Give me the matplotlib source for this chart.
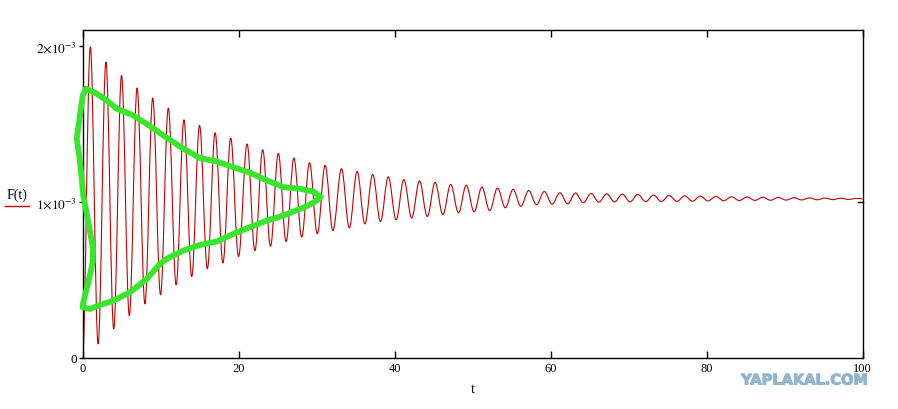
import numpy as np
import matplotlib
matplotlib.use('Agg')
import matplotlib.pyplot as plt
from matplotlib.lines import Line2D
from matplotlib.path import Path
from matplotlib.patches import PathPatch
import matplotlib.patheffects as pe

plt.rcParams['mathtext.fontset'] = 'stix'
plt.rcParams['font.family'] = ['Liberation Serif', 'DejaVu Serif']

SCALE = 1e-3  # values below are in units of 10^-3

# maxima of F(t)
peak_t = [1.0, 3.0, 5.0, 7.0, 9.0, 11.0, 13.0, 15.0, 17.0, 19.0,
          21.1, 23.1, 25.1, 27.1, 29.1, 31.1, 33.2, 35.2, 37.2, 39.2,
          41.2, 43.2, 45.2, 47.2, 49.2, 51.2, 53.2, 55.2, 57.2, 59.2,
          61.2, 63.2, 65.2, 67.2, 69.2, 71.2, 73.2, 75.2, 77.2, 79.2,
          81.2, 83.2, 85.2, 87.2, 89.2, 91.2, 93.2, 95.2, 97.2, 99.2]
peak_f = [1.992, 1.895, 1.809, 1.729, 1.665, 1.600, 1.525, 1.489, 1.442, 1.408,
          1.370, 1.333, 1.310, 1.280, 1.250, 1.233, 1.212, 1.194, 1.175, 1.160,
          1.143, 1.133, 1.124, 1.111, 1.106, 1.094, 1.088, 1.079, 1.072, 1.066,
          1.058, 1.056, 1.053, 1.051, 1.049, 1.047, 1.043, 1.040, 1.038, 1.036,
          1.034, 1.032, 1.031, 1.029, 1.028, 1.026, 1.025, 1.024, 1.023, 1.022]

# minima of F(t)
trough_t = [2.0, 4.0, 6.0, 8.0, 10.0, 12.0, 14.0, 16.0, 18.0, 20.0,
            22.1, 24.1, 26.1, 28.1, 30.1, 32.1, 34.2, 36.2, 38.2, 40.2,
            42.2, 44.2, 46.2, 48.2, 50.2, 52.2, 54.2, 56.2, 58.2, 60.2,
            62.2, 64.2, 66.2, 68.2, 70.2, 72.2, 74.2, 76.2, 78.2, 80.2,
            82.2, 84.2, 86.2, 88.2, 90.2, 92.2, 94.2, 96.2, 98.2]
trough_f = [0.090, 0.186, 0.271, 0.346, 0.404, 0.468, 0.521, 0.571, 0.609, 0.650,
            0.688, 0.716, 0.746, 0.774, 0.796, 0.816, 0.833, 0.859, 0.874, 0.885,
            0.897, 0.906, 0.919, 0.930, 0.936, 0.944, 0.962, 0.972, 0.981, 0.985,
            0.987, 0.994, 0.998, 0.999, 1.000, 1.001, 1.002, 1.003, 1.004, 1.006,
            1.007, 1.008, 1.009, 1.010, 1.011, 1.012, 1.013, 1.014, 1.015]

start_t, start_f = 0.0, 0.0
end_t, end_f = 100.0, 1.019

# hand drawn green loop (t, F in 10^-3)
loop_t = [0.45, 1.82, 3.10, 4.39, 6.52, 8.66, 10.80, 12.93, 15.07, 17.22,
          19.35, 21.49, 23.63, 25.76, 27.90, 29.61, 30.56,
          29.61, 28.76, 27.90, 25.76, 23.63, 21.49, 19.35, 17.22, 15.07,
          12.93, 10.80, 9.94, 8.24, 6.09, 3.95, 2.25, 0.96, 0.0,
          0.10, 0.74, 1.31, 1.35, 0.74, 0.10, -0.32, -0.74, -0.32, 0.03, 0.45]
loop_f = [1.724, 1.692, 1.649, 1.596, 1.553, 1.484, 1.410, 1.340, 1.280, 1.258,
          1.222, 1.186, 1.137, 1.094, 1.083, 1.066, 1.030,
          0.994, 0.972, 0.955, 0.912, 0.880, 0.838, 0.795, 0.746, 0.724,
          0.688, 0.635, 0.603, 0.506, 0.421, 0.367, 0.340, 0.314, 0.325,
          0.357, 0.485, 0.613, 0.699, 0.870, 1.040, 1.256, 1.404, 1.553, 1.681, 1.724]

t_all = np.array([start_t] + peak_t + trough_t + [end_t])
f_all = np.array([start_f] + peak_f + trough_f + [end_f])
order = np.argsort(t_all)
t_all = t_all[order]
f_all = f_all[order] * SCALE

# smooth curve: cubic segments with flat tangents at every extremum
verts = [(t_all[0], f_all[0])]
codes = [Path.MOVETO]
k = 0.3642
for i in range(len(t_all) - 1):
    h = t_all[i + 1] - t_all[i]
    verts += [(t_all[i] + k * h, f_all[i]),
              (t_all[i + 1] - k * h, f_all[i + 1]),
              (t_all[i + 1], f_all[i + 1])]
    codes += [Path.CURVE4] * 3

fig = plt.figure(figsize=(8.98, 4.10), dpi=100)
ax = fig.add_axes([0.0919, 0.1244, 0.8686, 0.8])

ax.add_patch(PathPatch(Path(verts, codes), facecolor='none',
                       edgecolor='#c40000', lw=0.8))
ax.plot(loop_t, np.array(loop_f) * SCALE, color='#38e62e', lw=4.2,
        solid_capstyle='round', solid_joinstyle='round', clip_on=False, zorder=5)

ax.set_xlim(0, 100)
ax.set_ylim(0, 2.1e-3)
ax.set_xticks([0, 20, 40, 60, 80, 100])
ax.set_xticklabels(['0', '20', '40', '60', '80', '100'])
ax.set_yticks([0, 1e-3, 2e-3])
ax.set_yticklabels(['0', r'$1{\times}10^{-3}$', r'$2{\times}10^{-3}$'])
ax.tick_params(axis='x', direction='in', top=True, length=5, width=1,
               labelsize=9, pad=3)
ax.tick_params(axis='y', direction='out', length=3, width=1,
               labelsize=9.5, pad=1)
for s in ax.spines.values():
    s.set_linewidth(1.0)
    s.set_color('black')
# short inward tick on the right side at 1e-3
ax.plot([99.4, 100], [1e-3, 1e-3], color='black', lw=1, clip_on=False)

ax.set_xlabel('t', fontsize=10, labelpad=6)

fig.text(17 / 898, 1 - 195 / 410, 'F(t)', fontsize=10, ha='center', va='center')
fig.add_artist(Line2D([5 / 898, 29 / 898], [1 - 207 / 410, 1 - 207 / 410],
                      color='#c40000', lw=1))

fig.text(805 / 898, 1 - 381 / 410, 'YAPLAKAL.COM', fontsize=10.5,
         fontweight='bold', color='#93b4cf', ha='center', va='center',
         family='DejaVu Sans',
         path_effects=[pe.withStroke(linewidth=0.8, foreground='#93b4cf')])

fig.savefig('out.png', dpi=100)
